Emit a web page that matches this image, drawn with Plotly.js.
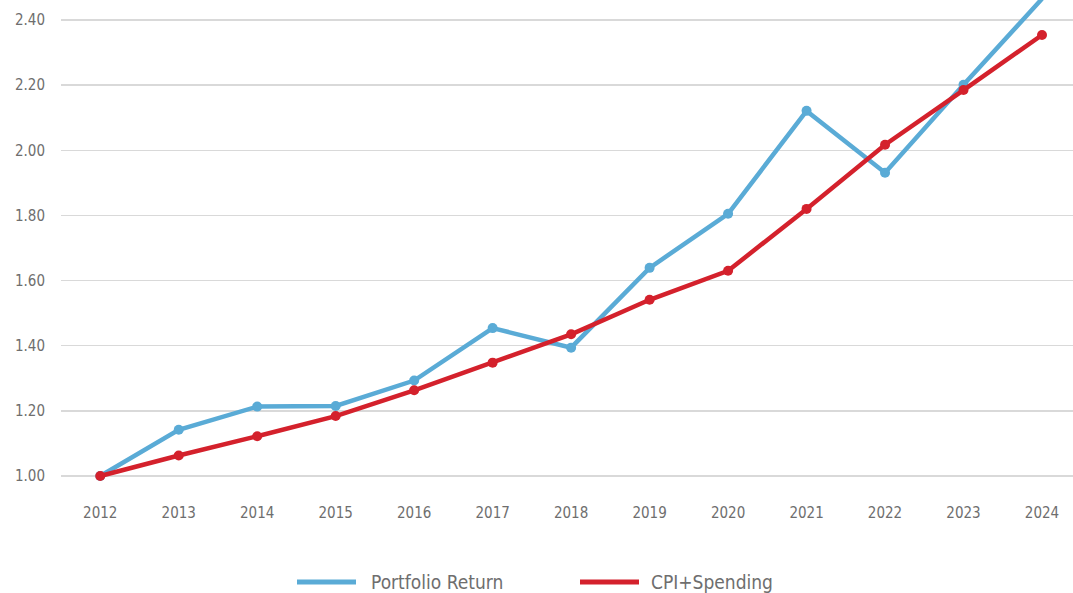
<!DOCTYPE html>
<html>
<head>
<meta charset="utf-8">
<script src="https://cdn.plot.ly/plotly-3.0.1.min.js"></script>
<style>html,body{margin:0;padding:0;background:#fff;}#chart{width:1073px;height:593px;}</style>
</head>
<body>
<div id="chart"></div>
<script>
const years = ['2012','2013','2014','2015','2016','2017','2018','2019','2020','2021','2022','2023','2024'];
const portfolioReturn = [1.00, 1.142, 1.213, 1.215, 1.293, 1.454, 1.394, 1.639, 1.805, 2.121, 1.931, 2.201, 2.465];
const cpiSpending = [1.00, 1.063, 1.122, 1.184, 1.263, 1.348, 1.435, 1.541, 1.630, 1.820, 2.017, 2.185, 2.354];
const seriesNames = ['Portfolio Return', 'CPI+Spending'];

const blue = '#5aabd6';
const red = '#d4212c';
const fontFam = '"Liberation Sans Narrow", "Arial Narrow", "DejaVu Sans Condensed", sans-serif';

const traces = [
  {x: years, y: portfolioReturn, type: 'scatter', mode: 'lines+markers', name: seriesNames[0],
   line: {color: blue, width: 4.5}, marker: {color: blue, size: 10}, cliponaxis: false},
  {x: years, y: cpiSpending, type: 'scatter', mode: 'lines+markers', name: seriesNames[1],
   line: {color: red, width: 4.5}, marker: {color: red, size: 10}, cliponaxis: false}
];

// custom legend (pixel -> paper conversion)
const L = 61, W = 1012, H = 497;
const px = v => (v - L) / W;
const py = v => (H - v) / H;
const legY = 582;
const legendItems = [
  {x0: 297, x1: 356, tx: 369, color: blue, text: seriesNames[0]},
  {x0: 580, x1: 639, tx: 649, color: red, text: seriesNames[1]}
];

const layout = {
  width: 1073, height: 593,
  margin: {l: L, r: 0, t: 0, b: 96, autoexpand: false},
  paper_bgcolor: '#ffffff', plot_bgcolor: '#ffffff',
  font: {family: fontFam, color: '#6e6e6e', size: 15},
  showlegend: false,
  shapes: legendItems.map(it => ({type: 'line', xref: 'paper', yref: 'paper',
    x0: px(it.x0), x1: px(it.x1), y0: py(legY), y1: py(legY),
    line: {color: it.color, width: 5}})),
  annotations: legendItems.map(it => ({xref: 'paper', yref: 'paper', x: px(it.tx), y: py(legY),
    xanchor: 'left', yanchor: 'middle', showarrow: false, text: it.text,
    font: {size: 19, color: '#6e6e6e', family: fontFam}})),
  xaxis: {type: 'category', range: [-0.5, 12.395], showgrid: false, zeroline: false,
          showline: false, ticks: '', tickfont: {size: 15, color: '#6e6e6e'}, ticklabelstandoff: 5},
  yaxis: {range: [0.9355, 2.4614], tick0: 1, dtick: 0.2, tickformat: '.2f',
          showgrid: true, gridcolor: '#d9d9d9', gridwidth: 1.5, zeroline: false, showline: false,
          ticks: '', tickfont: {size: 15, color: '#6e6e6e'}, ticklabelstandoff: 15}
};

Plotly.newPlot('chart', traces, layout, {displayModeBar: false, staticPlot: true});
</script>
</body>
</html>
